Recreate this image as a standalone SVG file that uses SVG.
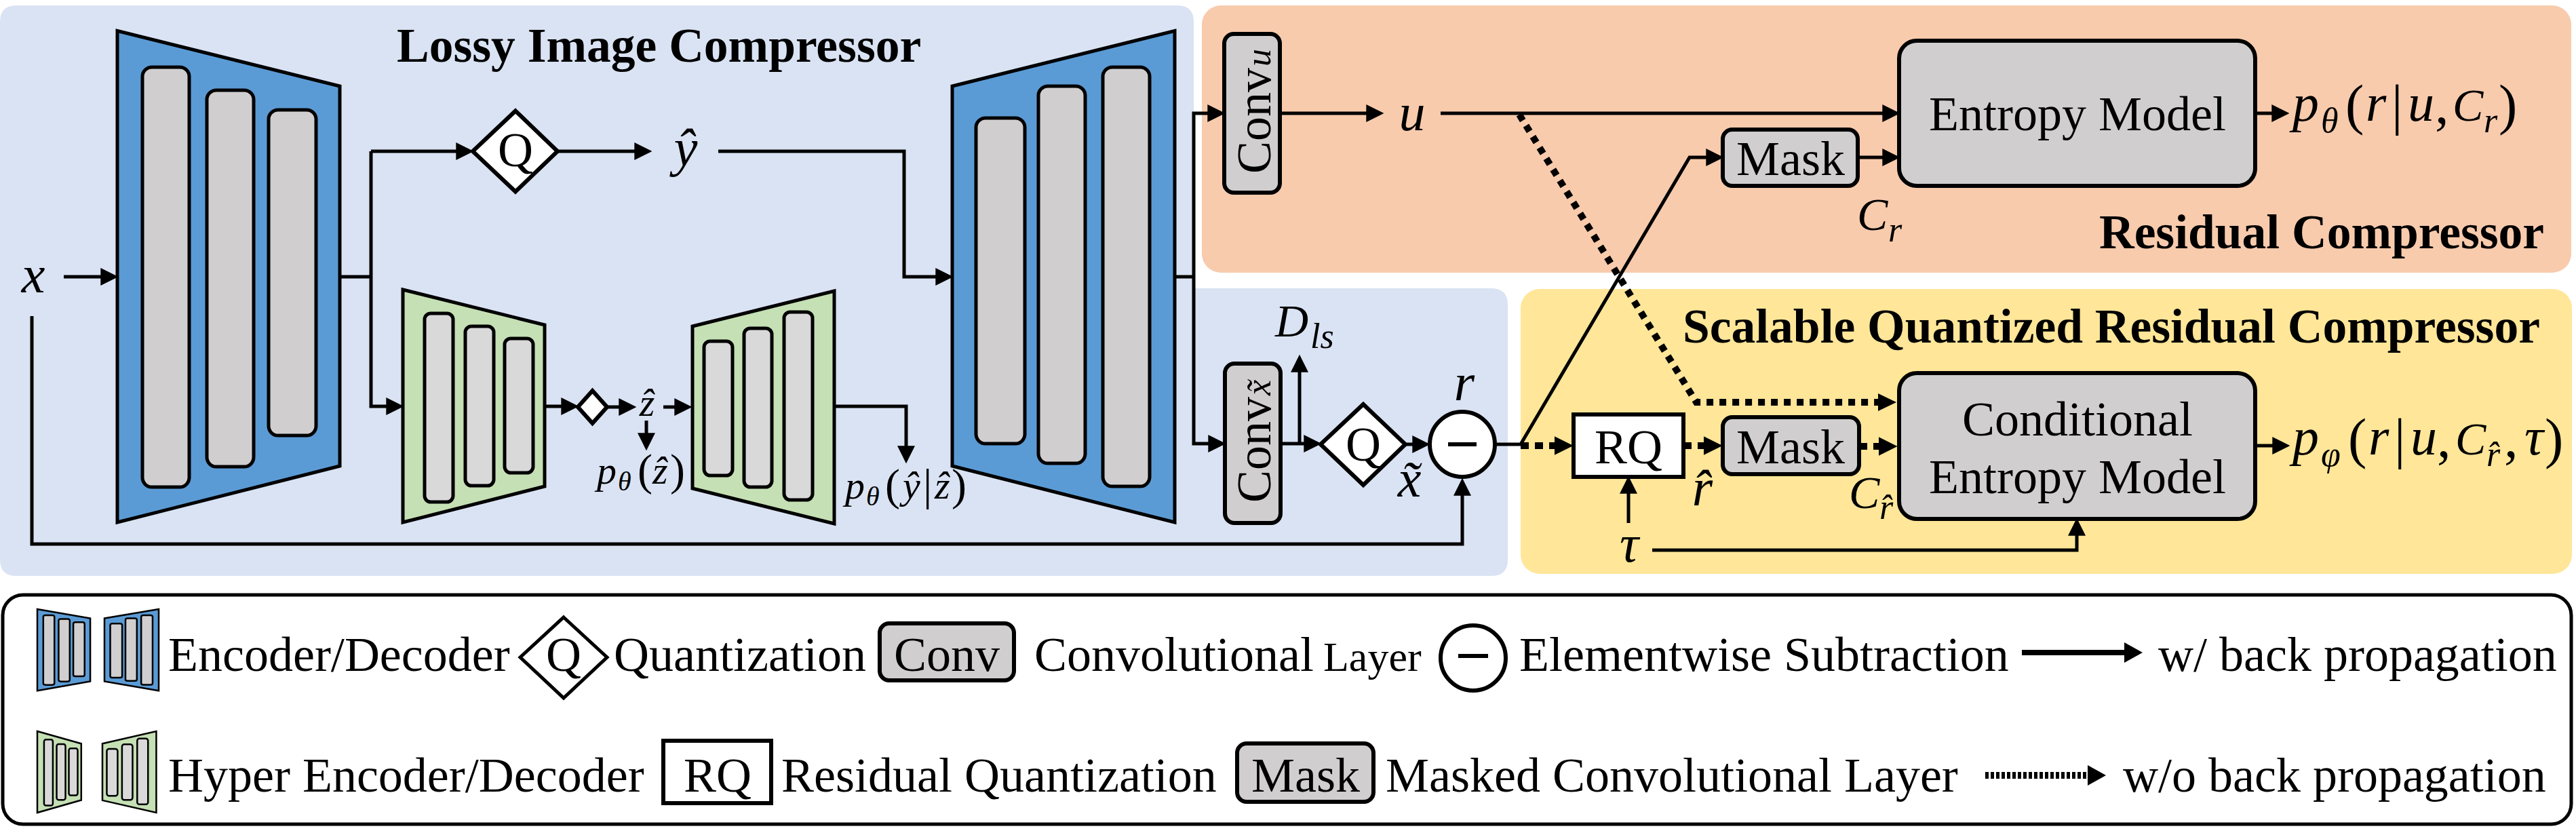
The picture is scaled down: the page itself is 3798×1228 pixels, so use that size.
<svg xmlns="http://www.w3.org/2000/svg" width="3798" height="1228" viewBox="0 0 3798 1228">
<style>
text{font-family:"Liberation Serif","Times New Roman",serif;fill:#000}
.t{font-size:72px}
.m{text-anchor:middle}
.i{font-style:italic;font-size:78px}
.C{font-style:italic;font-size:68px}
.s{font-style:italic;font-size:52px}
.ss{font-style:italic;font-size:58px}
.sss{font-style:italic;font-size:40px}
.n{font-style:normal;font-size:82px}
.nn{font-style:normal;font-size:66px}
.b{font-size:71.5px;font-weight:bold}
.box{fill:#d0cece;stroke:#000;stroke-width:6}
.wh{fill:#fff;stroke:#000;stroke-width:6}
.bl{fill:#5b9bd5;stroke:#000;stroke-width:var(--sw,5);vector-effect:non-scaling-stroke}
.gr{fill:#c5e0b4;stroke:#000;stroke-width:var(--sw,5);vector-effect:non-scaling-stroke}
.br{fill:#d0cece;stroke:#000;stroke-width:var(--sw,5);vector-effect:non-scaling-stroke}
.hb{fill:#d9d9d9;stroke:#000;stroke-width:var(--sw,5);vector-effect:non-scaling-stroke}
.c{fill:none;stroke:#000;stroke-width:5}
.a{marker-end:url(#ah)}
.d{fill:none;stroke:#000;stroke-width:10;stroke-dasharray:10 9}
.d2{fill:none;stroke:#000;stroke-width:10;stroke-dasharray:12 9;marker-end:url(#ah2)}
</style>
<defs>
<marker id="ah" markerUnits="userSpaceOnUse" markerWidth="26" markerHeight="26" viewBox="0 0 24 24" refX="8" refY="12" orient="auto"><path d="M0 0L24 12L0 24Z" fill="#000"/></marker>
<marker id="ah2" markerUnits="userSpaceOnUse" markerWidth="28" markerHeight="28" viewBox="0 0 24 24" refX="2" refY="12" orient="auto"><path d="M0 0L24 12L0 24Z" fill="#000"/></marker>
<g id="encS"><path class="bl" d="M173 45.5L501 127V687L173 770Z"/><rect class="br" x="210" y="99" width="69" height="619" rx="14"/><rect class="br" x="305" y="133" width="69" height="555" rx="14"/><rect class="br" x="396" y="162" width="70" height="480" rx="14"/></g>
<g id="decS"><path class="bl" d="M1404 127L1732 45.5V770L1404 687Z"/><rect class="br" x="1439" y="174" width="72" height="480" rx="14"/><rect class="br" x="1531" y="127" width="69" height="556" rx="14"/><rect class="br" x="1626" y="99" width="69" height="618" rx="14"/></g>
<g id="henS"><path class="gr" d="M594 427L803 479V717L594 770Z"/><rect class="hb" x="626" y="462" width="42" height="278" rx="9"/><rect class="hb" x="686" y="481" width="42" height="235" rx="9"/><rect class="hb" x="744" y="499" width="42" height="198" rx="9"/></g>
<g id="hdeS"><path class="gr" d="M1021 481L1230 429V772L1021 720Z"/><rect class="hb" x="1038" y="503" width="42" height="198" rx="9"/><rect class="hb" x="1097" y="484" width="41" height="234" rx="9"/><rect class="hb" x="1156" y="460" width="42" height="277" rx="9"/></g>
</defs>
<rect width="3798" height="1228" fill="#fff"/>
<g id="panels">
<path id="panel-lossy" d="M24 8H1736Q1760 8 1760 32V425H2199Q2223 425 2223 449V825Q2223 849 2199 849H24Q0 849 0 825V32Q0 8 24 8Z" fill="#dae3f3"/>
<rect id="panel-residual" x="1772" y="8" width="2019" height="394" rx="28" fill="#f8cbad"/>
<rect id="panel-scalable" x="2242" y="426" width="1550" height="420" rx="28" fill="#ffe699"/>
<text class="b" x="585" y="91">Lossy Image Compressor</text>
<text class="b" x="3095" y="366">Residual Compressor</text>
<text class="b" x="2481" y="505">Scalable Quantized Residual Compressor</text>
</g>
<g id="connectors">
<path class="c a" d="M94 408H157"/>
<path class="c" d="M501 408H547"/>
<path class="c a" d="M547 223H681"/>
<path class="c a" d="M547 223V599H578"/>
<path class="c a" d="M822 223H944"/>
<path class="c a" d="M1059 223H1333V408H1388"/>
<path class="c a" d="M803 599H836"/>
<path class="c a" d="M895 600H921"/>
<path class="c a" d="M978 600H1003"/>
<path class="c a" d="M953 620V647"/>
<path class="c a" d="M1230 599H1336V666"/>
<path class="c" d="M1732 408H1760"/>
<path class="c a" d="M1760 408V167H1789"/>
<path class="c a" d="M1760 408V654H1790"/>
<path class="c a" d="M1887 167H2023"/>
<path class="c a" d="M2124 167H2784"/>
<path class="d" d="M2240 169L2501 593H2772"/>
<path d="M2769 580L2796 593L2769 606Z" fill="#000"/>
<path class="c a" d="M1888 654H1931"/>
<path class="c a" d="M1916 654V540"/>
<path class="c a" d="M2072 655H2091"/>
<path class="c a" d="M47 466V802H2156V722"/>
<path class="c a" d="M2205 655H2242L2491 232H2524"/>
<path class="d2" d="M2242 657H2294"/>
<path class="d2" d="M2482 657H2514"/>
<path class="d2" d="M2741 658H2772"/>
<path class="c a" d="M2739 232H2784"/>
<path class="c a" d="M3325 167H3358"/>
<path class="c a" d="M3325 657H3359"/>
<path class="c a" d="M2401 771V719"/>
<path class="c a" d="M2436 811H3062V781"/>
</g>
<g id="encoder"><use href="#encS"/></g>
<g id="decoder"><use href="#decS"/></g>
<g id="hyper-encoder"><use href="#henS"/></g>
<g id="hyper-decoder"><use href="#hdeS"/></g>
<g id="q1"><path class="wh" d="M760 163.5L822 223L760 282.5L697 223Z"/><text class="t m" x="760" y="245">Q</text></g>
<g id="q-small"><path class="wh" d="M873.5 576L895 600L873.5 624L852 600Z"/></g>
<g id="q2"><path class="wh" d="M2010 596L2072 655L2010 715L1947 655Z"/><text class="t m" x="2010" y="679">Q</text></g>
<g id="conv-u"><rect class="box" x="1805" y="50" width="82" height="234" rx="14"/><text class="t" transform="translate(1873,256) rotate(-90)">Conv<tspan class="s" dx="2">u</tspan></text></g>
<g id="conv-x"><rect class="box" x="1806" y="536" width="82" height="235" rx="14"/><text class="t" transform="translate(1873,741) rotate(-90)">Conv<tspan class="s" dx="2">x̃</tspan></text></g>
<g id="subtract"><circle class="wh" cx="2156" cy="655" r="48"/><path d="M2135 655H2177" stroke="#000" stroke-width="6"/></g>
<g id="rq"><rect class="wh" x="2320" y="611" width="162" height="92"/><text class="t m" x="2401" y="683">RQ</text></g>
<g id="mask1"><rect class="box" x="2540" y="191" width="199" height="83" rx="14"/><text class="t m" x="2640" y="258">Mask</text></g>
<g id="mask2"><rect class="box" x="2540" y="615" width="201" height="84" rx="14"/><text class="t m" x="2640" y="683">Mask</text></g>
<g id="entropy"><rect class="box" x="2800" y="60" width="525" height="214" rx="26"/><text class="t m" x="3063" y="192">Entropy Model</text></g>
<g id="cond-entropy"><rect class="box" x="2800" y="550" width="525" height="215" rx="26"/><text class="t m" x="3063" y="642">Conditional</text><text class="t m" x="3063" y="727">Entropy Model</text></g>
<g id="labels">
<text class="i m" x="49" y="431">x</text>
<text class="i m" x="1011" y="244">ŷ</text>
<text class="i m" x="2082" y="192">u</text>
<text class="i m" x="2159" y="590">r</text>
<text class="i m" x="2078" y="732">x̃</text>
<text class="i m" x="2402" y="828">τ</text>
<text class="i m" x="2510" y="745">r̂</text>
<text class="C" x="1880" y="496">D<tspan class="s" x="1932" y="513">ls</tspan></text>
<text class="C" x="2738" y="339">C<tspan class="s" x="2784" y="356">r</tspan></text>
<text class="C" x="2726" y="749">C<tspan class="s" x="2771" y="765">r̂</tspan></text>
<text class="ss m" x="954" y="613">ẑ</text>
<text class="ss" x="880" y="713">p<tspan class="sss" x="911" y="723">θ</tspan><tspan class="nn" x="940" y="715">(</tspan><tspan x="962" y="713">ẑ</tspan><tspan class="nn" x="988" y="715">)</tspan></text>
<text class="ss" x="1246" y="735">p<tspan class="sss" x="1277" y="745">θ</tspan><tspan class="nn" x="1305" y="737">(</tspan><tspan x="1331" y="735">ŷ</tspan><tspan class="nn" x="1361" y="737">|</tspan><tspan x="1378" y="735">ẑ</tspan><tspan class="nn" x="1403" y="737">)</tspan></text>
<text class="i" x="3380" y="178">p<tspan class="s" x="3422" y="195">θ</tspan><tspan class="n" x="3458" y="182">(</tspan><tspan x="3488" y="178">r</tspan><tspan class="n" x="3526" y="182">|</tspan><tspan x="3550" y="178">u</tspan><tspan class="n" x="3590" y="182">,</tspan><tspan class="C" x="3616" y="178">C</tspan><tspan class="s" x="3662" y="195">r</tspan><tspan class="n" x="3684" y="182">)</tspan></text>
<text class="i" x="3380" y="670">p<tspan class="s" x="3422" y="687">φ</tspan><tspan class="n" x="3462" y="674">(</tspan><tspan x="3492" y="670">r</tspan><tspan class="n" x="3530" y="674">|</tspan><tspan x="3554" y="670">u</tspan><tspan class="n" x="3593" y="674">,</tspan><tspan class="C" x="3620" y="670">C</tspan><tspan class="s" x="3666" y="687">r̂</tspan><tspan class="n" x="3692" y="674">,</tspan><tspan x="3722" y="670">τ</tspan><tspan class="n" x="3752" y="674">)</tspan></text>
</g>
<g id="legend">
<rect x="4" y="877" width="3787" height="338" rx="30" fill="#fff" stroke="#000" stroke-width="5"/>
<use href="#encS" style="--sw:2.5" transform="translate(55,898) scale(.238,.166) translate(-173,-45.5)"/>
<use href="#decS" style="--sw:2.5" transform="translate(154,898) scale(.244,.166) translate(-1404,-45.5)"/>
<text class="t" x="248" y="989">Encoder/Decoder</text>
<path class="wh" d="M831 910L895 969L831 1029L767 969Z" style="stroke-width:5"/>
<text class="t m" x="831" y="989">Q</text>
<text class="t" x="905" y="989">Quantization</text>
<rect class="box" x="1297" y="919" width="198" height="84" rx="14"/>
<text class="t m" x="1396" y="989">Conv</text>
<text class="t" x="1525" y="989">Convolutional <tspan style="font-size:62px" x="1951">Layer</tspan></text>
<circle class="wh" cx="2172" cy="970" r="48"/>
<path d="M2150 967H2194" stroke="#000" stroke-width="6"/>
<text class="t" x="2240" y="989">Elementwise Subtraction</text>
<path d="M2981 962H3134" stroke="#000" stroke-width="8" fill="none"/><path d="M3132 947L3159 962L3132 977Z" fill="#000"/>
<text class="t" x="3182" y="989">w/ back propagation</text>
<use href="#henS" style="--sw:2.5" transform="translate(55,1078) scale(.31,.35) translate(-594,-427)"/>
<use href="#hdeS" style="--sw:2.5" transform="translate(151,1078) scale(.38,.35) translate(-1021,-429)"/>
<text class="t" x="248" y="1167">Hyper Encoder/Decoder</text>
<rect class="wh" x="978" y="1092" width="159" height="92"/>
<text class="t m" x="1058" y="1167">RQ</text>
<text class="t" x="1152" y="1167">Residual Quantization</text>
<rect class="box" x="1824" y="1096" width="201" height="86" rx="14"/>
<text class="t m" x="1925" y="1167">Mask</text>
<text class="t" x="2043" y="1167">Masked Convolutional Layer</text>
<path class="d" d="M2927 1143H3082" style="stroke-width:10;stroke-dasharray:5 3"/><path d="M3078 1128L3105 1143L3078 1158Z" fill="#000"/>
<text class="t" x="3130" y="1167">w/o back propagation</text>
</g>
</svg>
